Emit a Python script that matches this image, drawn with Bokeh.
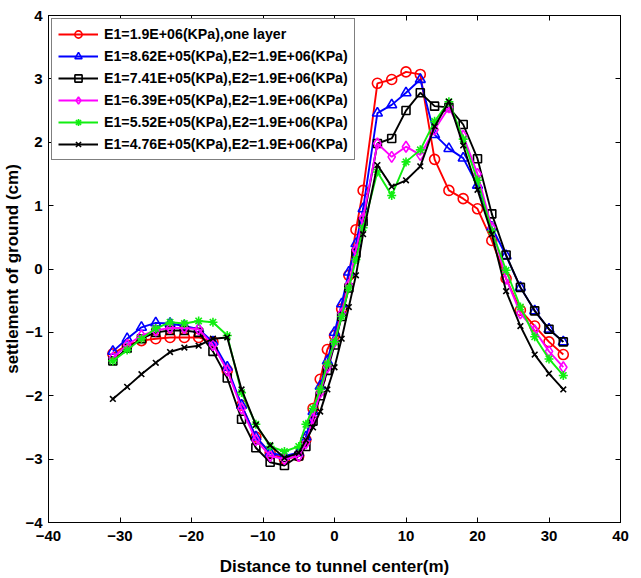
from bokeh.plotting import figure
from bokeh.models import LinearAxis, Range1d, FixedTicker
from bokeh.embed import file_html
from bokeh.resources import INLINE

# distance to tunnel center (m)
x_m = [-31, -29, -27, -25, -23, -21, -19, -17, -15, -13, -11, -9, -7,
       -5, -4, -3, -2, -1, 0, 1, 2, 3, 4,
       6, 8, 10, 12, 14, 16, 18, 20, 22, 24, 26, 28, 30, 32]

labels = [
    "E1=1.9E+06(KPa),one layer",
    "E1=8.62E+05(KPa),E2=1.9E+06(KPa)",
    "E1=7.41E+05(KPa),E2=1.9E+06(KPa)",
    "E1=6.39E+05(KPa),E2=1.9E+06(KPa)",
    "E1=5.52E+05(KPa),E2=1.9E+06(KPa)",
    "E1=4.76E+05(KPa),E2=1.9E+06(KPa)",
]

s_red = [-1.34, -1.2, -1.13, -1.1, -1.08, -1.08, -1.08, -1.15, -1.6, -2.15, -2.65, -2.9, -3.0,
         -2.95, -2.69, -2.2, -1.74, -1.27, -1.05, -0.63, -0.10, 0.62, 1.24,
         2.93, 2.99, 3.11, 3.07, 1.73, 1.24, 1.11, 0.95, 0.45, -0.15, -0.65, -0.9, -1.15, -1.35]
s_blue = [-1.3, -1.1, -0.92, -0.85, -0.86, -0.9, -0.95, -1.15, -1.55, -2.15, -2.65, -2.9, -2.95,
          -2.9, -2.65, -2.25, -1.85, -1.45, -1.0, -0.55, -0.05, 0.4, 0.95,
          2.46, 2.59, 2.78, 2.99, 2.12, 1.9, 1.75, 1.32, 0.66, 0.21, -0.29, -0.66, -0.95, -1.15]
s_square = [-1.45, -1.25, -1.1, -1.0, -0.97, -0.97, -1.0, -1.3, -1.72, -2.37, -2.82, -3.05, -3.1,
            -2.95, -2.8, -2.4, -2.0, -1.6, -1.2, -0.75, -0.3, 0.25, 0.75,
            1.98, 2.06, 2.5, 2.78, 2.57, 2.55, 2.28, 1.74, 0.87, 0.22, -0.29, -0.66, -0.95, -1.15]
s_magenta = [-1.4, -1.2, -1.05, -0.97, -0.93, -0.93, -0.95, -1.2, -1.6, -2.2, -2.7, -2.95, -3.0,
             -2.95, -2.75, -2.35, -1.95, -1.55, -1.15, -0.7, -0.25, 0.3, 0.8,
             1.98, 1.77, 1.93, 1.80, 2.2, 2.55, 2.1, 1.5, 0.65, -0.15, -0.7, -0.97, -1.3, -1.55]
s_green = [-1.45, -1.28, -1.1, -0.94, -0.84, -0.86, -0.82, -0.84, -1.05, -1.95, -2.45, -2.8, -2.88,
           -2.8, -2.45, -2.2, -1.9, -1.5, -1.15, -0.75, -0.3, 0.15, 0.65,
           1.53, 1.16, 1.69, 1.88, 2.33, 2.64, 2.05, 1.4, 0.6, -0.02, -0.6, -1.07, -1.42, -1.68]
s_xblack = [-2.05, -1.86, -1.66, -1.48, -1.31, -1.24, -1.21, -1.10, -1.08, -1.9, -2.46, -2.78, -2.98,
            -2.9, -2.7, -2.5, -2.25, -1.9, -1.55, -1.1, -0.6, -0.1, 0.55,
            1.64, 1.30, 1.40, 1.62, 2.25, 2.64, 1.95, 1.25, 0.55, -0.35, -0.9, -1.35, -1.65, -1.9]

series = [s_red, s_blue, s_square, s_magenta, s_green, s_xblack]
colors = ["#ff0000", "#0000ff", "#000000", "#ff00ff", "#11ee11", "#000000"]
markers = ["circle", "triangle", "square", "diamond", "asterisk", "x"]
msizes = [10, 10, 8, 11, 9, 8]

x_ticks = [-40, -30, -20, -10, 0, 10, 20, 30, 40]
y_ticks = [-4, -3, -2, -1, 0, 1, 2, 3, 4]

FONT = "Liberation Sans"

p = figure(width=641, height=578, output_backend="svg", toolbar_location=None,
           x_range=Range1d(-40, 40), y_range=Range1d(-4, 4),
           min_border_left=47, min_border_right=21, min_border_top=15, min_border_bottom=56)
p.background_fill_color = "white"
p.border_fill_color = "white"
p.outline_line_color = "black"
p.outline_line_width = 1
p.xgrid.visible = False
p.ygrid.visible = False

for ax, ticks in ((p.xaxis[0], x_ticks), (p.yaxis[0], y_ticks)):
    ax.ticker = FixedTicker(ticks=ticks)
    ax.major_tick_in = 5
    ax.major_tick_out = 0
    ax.minor_tick_line_color = None
    ax.axis_line_color = "black"
    ax.major_label_text_font = FONT
    ax.major_label_text_font_style = "bold"
    ax.major_label_text_font_size = "15px"
    ax.major_label_text_color = "black"
    ax.axis_label_text_font = FONT
    ax.axis_label_text_font_style = "bold"
    ax.axis_label_text_font_size = "17px"
    ax.axis_label_text_color = "black"

p.xaxis[0].axis_label = "Distance to tunnel center(m)"
p.yaxis[0].axis_label = "settlement of ground (cm)"
p.xaxis[0].major_label_standoff = 8
p.yaxis[0].major_label_standoff = 6
p.xaxis[0].axis_label_standoff = 13
p.yaxis[0].axis_label_standoff = 0

for loc, ticks in (("above", x_ticks), ("right", y_ticks)):
    ax = LinearAxis(ticker=FixedTicker(ticks=ticks))
    ax.major_tick_in = 5
    ax.major_tick_out = 0
    ax.minor_tick_line_color = None
    ax.major_label_text_font_size = "1px"
    ax.major_label_text_color = None
    ax.major_label_standoff = 0
    ax.axis_line_color = "black"
    p.add_layout(ax, loc)

for ys, c, m, ms, lab in zip(series, colors, markers, msizes, labels):
    p.line(x_m, ys, line_color=c, line_width=1.9, legend_label=lab)
    p.scatter(x_m, ys, marker=m, size=ms, line_color=c, line_width=1.6,
              fill_color=None, legend_label=lab)

lg = p.legend[0]
lg.location = "top_left"
lg.margin = 3
lg.padding = 6
lg.spacing = 4
lg.glyph_width = 40
lg.glyph_height = 18
lg.label_height = 18
lg.label_standoff = 6
lg.label_text_font = FONT
lg.label_text_font_style = "bold"
lg.label_text_font_size = "14.2px"
lg.label_text_color = "black"
lg.border_line_color = "black"
lg.border_line_width = 1
lg.background_fill_color = "white"
lg.background_fill_alpha = 1.0

open("out.html", "w").write(file_html(p, INLINE))
